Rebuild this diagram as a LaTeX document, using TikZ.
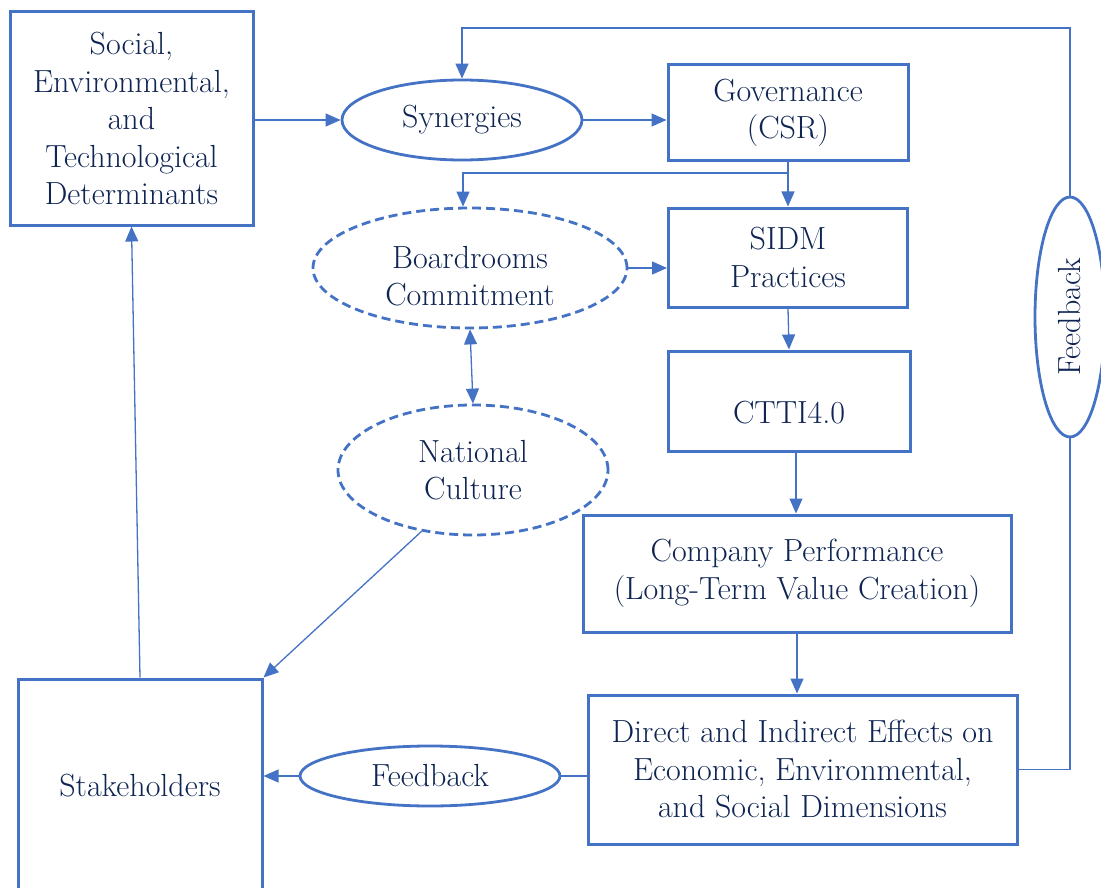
\documentclass[tikz,border=0pt]{standalone}
\usetikzlibrary{arrows.meta,shapes.geometric}
\definecolor{lineblue}{RGB}{68,114,196}
\definecolor{txtnavy}{RGB}{14,36,82}
\tikzset{
  every node/.style={text=txtnavy, font=\fontsize{32}{37.5}\selectfont, align=center, inner sep=0pt},
  box/.style={draw=lineblue, line width=3pt, rectangle},
  oval/.style={draw=lineblue, line width=2.8pt, ellipse},
  dashoval/.style={oval, dashed, dash pattern=on 9pt off 5pt},
  conn/.style={draw=lineblue, line width=1.3pt},
  arr/.style={conn, -{Triangle[length=15pt,width=13pt]}},
  darr/.style={conn, {Triangle[length=15pt,width=13pt]}-{Triangle[length=15pt,width=13pt]}},
}
\begin{document}
\begin{tikzpicture}[x=1pt,y=-1pt]
\useasboundingbox (0,0) rectangle (1101,888);
% nodes
\node[box, minimum width=243pt, minimum height=213pt] (soc) at (131.5,118.5)
  {Social,\\Environmental,\\and\\Technological\\Determinants};
\node[oval, minimum width=240pt, minimum height=80pt] (syn) at (462,120) {Synergies};
\node[box, minimum width=240pt, minimum height=96pt] (gov) at (788,113) {Governance\\(CSR)};
\node[box, minimum width=239pt, minimum height=99pt] (sidm) at (788,257.5) {SIDM\\Practices};
\node[dashoval, minimum width=314pt, minimum height=120pt] (board) at (470,268) {};
\node at (470,276) {Boardrooms\\Commitment};
\node[box, minimum width=242pt, minimum height=100pt] (ctti) at (789,401) {};
\node at (789,413) {CTTI4.0};
\node[dashoval, minimum width=270pt, minimum height=130pt] (nat) at (473,470) {National\\Culture};
\node[box, minimum width=428pt, minimum height=117pt] (comp) at (797,573.5) {Company Performance\\(Long-Term Value Creation)};
\node[box, minimum width=429pt, minimum height=149pt] (dir) at (802.5,769.5) {Direct and Indirect Effects on\\Economic, Environmental,\\and Social Dimensions};
\node[box, minimum width=244pt, minimum height=214pt] (stk) at (140,786) {Stakeholders};
\node[oval, minimum width=260pt, minimum height=60pt] (fbB) at (430,776) {Feedback};
\node[oval, rotate=90, minimum width=240pt, minimum height=70pt] (fbR) at (1070,317) {Feedback};
% helper coordinates
\coordinate (ytop) at (0,28);
\coordinate (br) at (788,173);
\coordinate (bx) at (463,0);
\coordinate (dx) at (796,0);
% connectors
\draw[arr] (soc.east |- syn.west) -- (syn.west);
\draw[arr] (syn.east) -- (syn.east -| gov.west);
\draw[arr] (fbR.east) -- (fbR.east |- ytop) -| (syn.north);
\draw[arr] (gov.south) -- (sidm.north);
\draw[arr] (br) -| (bx |- board.north);
\draw[arr] (board.east) -- (board.east -| sidm.west);
\draw[arr] (sidm.south) -- (ctti.north);
\draw[darr] (board.south) -- (nat.north);
\draw[arr] (dx |- ctti.south) -- (dx |- comp.north);
\draw[arr] (comp.south) -- (comp.south |- dir.north);
\draw[conn] (dir.west |- fbB.east) -- (fbB.east);
\draw[arr] (fbB.west) -- (fbB.west -| stk.east);
\draw[arr] (nat.-130) -- (stk.north east);
\draw[arr] (stk.north) -- (soc.south);
\draw[conn] (dir.east) -| (fbR.west);
\end{tikzpicture}
\end{document}
